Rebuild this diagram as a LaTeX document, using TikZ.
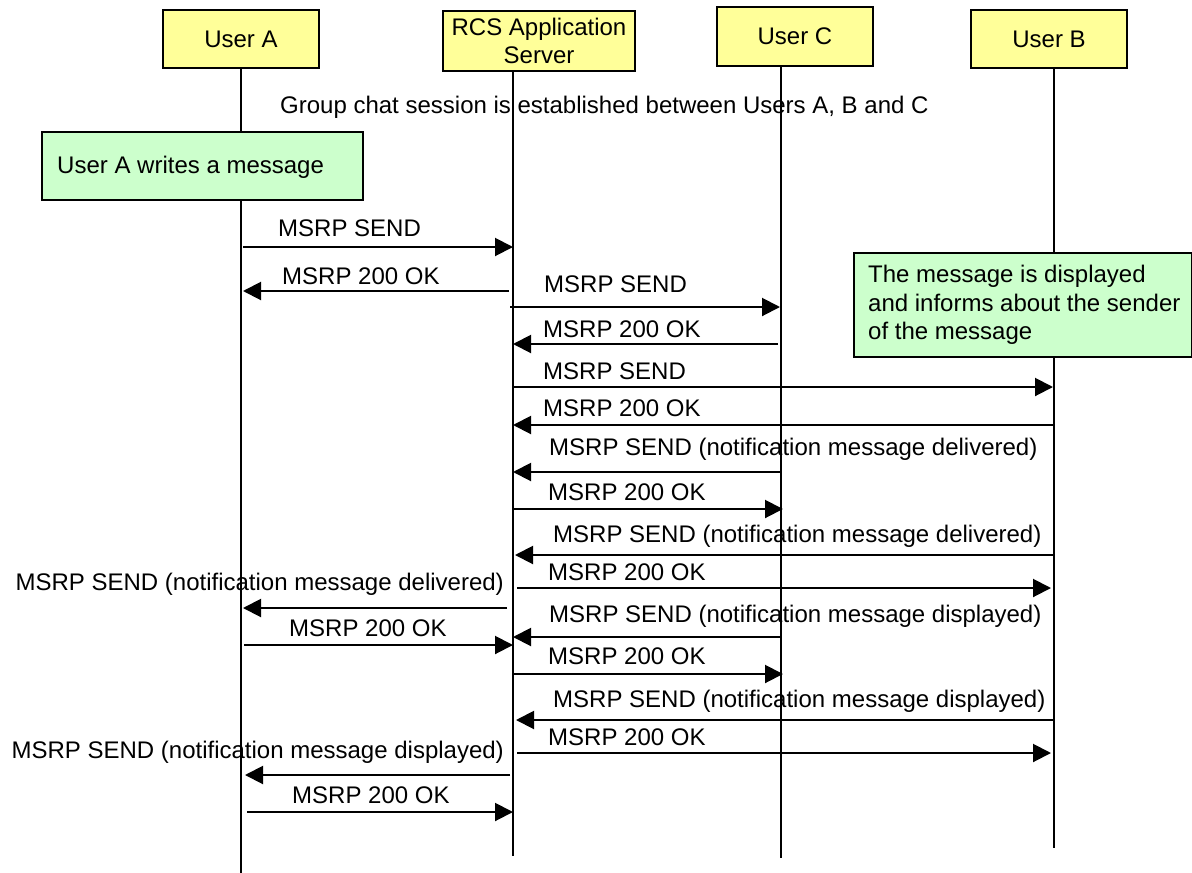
\documentclass[tikz,border=0pt]{standalone}
\usepackage{fontspec}
\setmainfont{Liberation Sans}
\usetikzlibrary{arrows.meta}

\definecolor{entityfill}{HTML}{FFFF99}
\definecolor{notefill}{HTML}{CCFFCC}

\begin{document}
\begin{tikzpicture}[x=1pt, y=-1pt,
  font=\fontsize{24}{28.5}\selectfont,
  entity/.style={draw=black, line width=1.6pt, fill=entityfill, inner sep=0pt,
                 align=center, anchor=center},
  note/.style={draw=black, line width=1.6pt, fill=notefill, anchor=north west,
               inner sep=0pt},
  notetext/.style={inner sep=0pt, align=left},
  life/.style={line width=1.5pt},
  msg/.style={line width=2pt, -{Triangle[length=18pt, width=18pt]}},
  lbl/.style={inner sep=0pt, anchor=base west},
  lblr/.style={inner sep=0pt, anchor=base east}]

\useasboundingbox (0,0) rectangle (1192,873);
\fill[white] (0,0) rectangle (1192,873);

% lifeline end points
\coordinate (uatop) at (241,68);   \coordinate (uaend) at (241,873);
\coordinate (astop) at (513,71);   \coordinate (asend) at (513,856);
\coordinate (uctop) at (781,63);   \coordinate (ucend) at (781,858);
\coordinate (ubtop) at (1054,68);  \coordinate (ubend) at (1054,848);
\draw[life] (uatop) -- (uaend);
\draw[life] (astop) -- (asend);
\draw[life] (uctop) -- (ucend);
\draw[life] (ubtop) -- (ubend);

% participants
\node[entity, minimum width=156pt, minimum height=58pt] (ua) at (241,39) {User A};
\node[entity, minimum width=192pt, minimum height=60pt] (as) at (539,41)
  {RCS Application\\Server};
\node[entity, minimum width=156pt, minimum height=59pt] (uc) at (795,36.5) {User C};
\node[entity, minimum width=156pt, minimum height=58pt] (ub) at (1049,39) {User B};

\node[lbl] (grp) at (280,113) {Group chat session is established between Users A, B and C};

% notes
\node[note, minimum width=321pt, minimum height=68pt] (write) at (41,131) {};
\node[lbl] (writetext) at (57,173) {User A writes a message};
\node[note, minimum width=338pt, minimum height=104pt] (disp) at (853,252) {};
\node[notetext, anchor=west] (disptext) at (868,305.25)
  {The message is displayed\\and informs about the sender\\of the message};

% messages
\foreach \i/\xa/\xb/\yy in {
   1/243/513/247,  2/509/243/291,  3/510/780/307,  4/778/513/344,
   5/513/1053/387, 6/1053/513/425, 7/781/513/472,  8/513/783/509,
   9/1053/515/555, 10/517/1051/588, 11/507/243/608, 12/244/513/645,
  13/781/513/637, 14/513/783/674, 15/1053/516/720, 16/517/1051/753,
  17/510/245/775, 18/247/513/812} {
  \coordinate (m\i s) at (\xa,\yy);
  \coordinate (m\i e) at (\xb,\yy);
  \draw[msg] (m\i s) -- (m\i e);
}

% message labels
\node[lbl] (l1)  at (278,236) {MSRP SEND};
\node[lbl] (l2)  at (282,284) {MSRP 200 OK};
\node[lbl] (l3)  at (544,292) {MSRP SEND};
\node[lbl] (l4)  at (543,337) {MSRP 200 OK};
\node[lbl] (l5)  at (543,379) {MSRP SEND};
\node[lbl] (l6)  at (543,416) {MSRP 200 OK};
\node[lbl] (l7)  at (549,455) {MSRP SEND (notification message delivered)};
\node[lbl] (l8)  at (548,500) {MSRP 200 OK};
\node[lbl] (l9)  at (553,542) {MSRP SEND (notification message delivered)};
\node[lbl] (l10) at (548,580) {MSRP 200 OK};
\node[lblr] (l11) at (504,590) {MSRP SEND (notification message delivered)};
\node[lbl] (l12) at (289,636) {MSRP 200 OK};
\node[lbl] (l13) at (549,622) {MSRP SEND (notification message displayed)};
\node[lbl] (l14) at (548,664) {MSRP 200 OK};
\node[lbl] (l15) at (553,707) {MSRP SEND (notification message displayed)};
\node[lbl] (l16) at (548,745) {MSRP 200 OK};
\node[lblr] (l17) at (504,758) {MSRP SEND (notification message displayed)};
\node[lbl] (l18) at (292,803) {MSRP 200 OK};

\end{tikzpicture}
\end{document}
